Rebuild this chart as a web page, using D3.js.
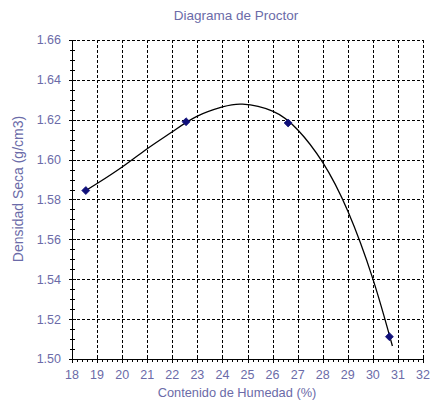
<!DOCTYPE html>
<html><head><meta charset="utf-8">
<script src="https://cdn.jsdelivr.net/npm/d3@7/dist/d3.min.js"></script>
<style>body{margin:0;background:#fff}svg{display:block}text{font-family:"Liberation Sans",Arial,sans-serif}</style>
</head><body>
<script>
const pointX = [18.55, 22.55, 26.62, 30.66];
const pointY = [1.5845, 1.6190, 1.6184, 1.5112];
const curveX = [18.55, 19, 20, 21, 22, 23, 24, 24.8, 26, 27, 28, 29, 30, 30.78];
const curveY = [1.5845, 1.5880, 1.5963, 1.6055, 1.6140, 1.6218, 1.6264, 1.6278, 1.6243, 1.6150, 1.5986, 1.5742, 1.5402, 1.5065];
const xTicks = [18,19,20,21,22,23,24,25,26,27,28,29,30,31,32];
const yTicks = [1.50,1.52,1.54,1.56,1.58,1.60,1.62,1.64,1.66];
const title = "Diagrama de Proctor";
const xTitle = "Contenido de Humedad (%)";
const yTitle = "Densidad Seca (g/cm3)";

const W = 431, H = 402;
const L = 72, R = 423, T = 40, B = 359;
const txt = "#6b6ba8";
const svg = d3.select("body").append("svg").attr("width", W).attr("height", H);
const x = d3.scaleLinear().domain([18, 32]).range([L, R]);
const y = d3.scaleLinear().domain([1.50, 1.66]).range([B, T]);

// grid
const g = svg.append("g").attr("stroke", "#000").attr("stroke-dasharray", "3,2").attr("stroke-width", 1);
xTicks.slice(1).forEach(v => g.append("line").attr("x1", Math.round(x(v))+0.5).attr("x2", Math.round(x(v))+0.5).attr("y1", T).attr("y2", B));
yTicks.slice(1).forEach(v => g.append("line").attr("x1", L).attr("x2", R).attr("y1", Math.round(y(v))+0.5).attr("y2", Math.round(y(v))+0.5));

// axes
const yMinor = d3.range(0, 33).map(i => 1.50 + i*0.005);
const xMinor = d3.range(0, 71).map(i => 18 + i*0.2);
const ax = svg.append("g").attr("stroke", "#000").attr("stroke-width", 1);
ax.append("line").attr("x1", L+0.5).attr("x2", L+0.5).attr("y1", T).attr("y2", B+0.5);
ax.append("line").attr("x1", L).attr("x2", R+0.5).attr("y1", B+0.5).attr("y2", B+0.5);
yMinor.forEach((v,i) => {
  const yy = Math.round(y(v))+0.5;
  const major = i % 4 === 0;
  ax.append("line").attr("x1", L - (major?3:2)).attr("x2", L + (major?4:3)).attr("y1", yy).attr("y2", yy);
});
xMinor.forEach((v,i) => {
  const xx = Math.round(x(v))+0.5;
  const major = i % 5 === 0;
  ax.append("line").attr("x1", xx).attr("x2", xx).attr("y1", B - (major?4:0)).attr("y2", B + (major?4:3));
});

// tick labels
svg.append("g").selectAll("text").data(yTicks).join("text")
  .attr("x", L - 11).attr("y", d => y(d)).attr("dy", "0.35em")
  .attr("text-anchor", "end").attr("font-size", 12.5).attr("fill", txt)
  .text(d => d3.format(".2f")(d));
svg.append("g").selectAll("text").data(xTicks).join("text")
  .attr("x", d => x(d)).attr("y", B + 20)
  .attr("text-anchor", "middle").attr("font-size", 12.5).attr("fill", txt)
  .text(d => d);

// titles
svg.append("text").attr("x", 236).attr("y", 20).attr("text-anchor", "middle").attr("font-size", 13.5).attr("fill", txt).text(title);
svg.append("text").attr("x", 237).attr("y", 397).attr("text-anchor", "middle").attr("font-size", 12.8).attr("fill", txt).text(xTitle);
svg.append("text").attr("transform", `translate(23,189) rotate(-90)`).attr("text-anchor", "middle").attr("font-size", 14).attr("fill", txt).text(yTitle);

// curve
const cdata = curveX.map((v,i) => [v, curveY[i]]);
svg.append("path").attr("d", d3.line().x(d => x(d[0])).y(d => y(d[1])).curve(d3.curveNatural)(cdata))
  .attr("fill", "none").attr("stroke", "#000").attr("stroke-width", 1.3);

// points
const pdata = pointX.map((v,i) => [v, pointY[i]]);
svg.append("g").selectAll("path").data(pdata).join("path")
  .attr("transform", d => `translate(${x(d[0])},${y(d[1])})`)
  .attr("d", d3.symbol(d3.symbolDiamond2, 40))
  .attr("fill", "#10107a").attr("stroke", "#10107a").attr("stroke-width", 0.8);
</script>
</body></html>
